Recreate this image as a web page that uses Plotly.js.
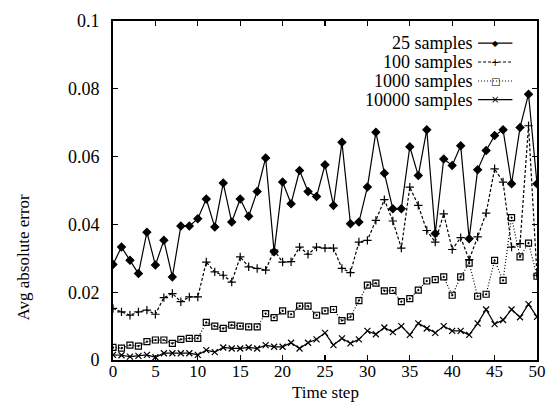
<!DOCTYPE html>
<html>
<head>
<meta charset="utf-8">
<script src="https://cdn.plot.ly/plotly-3.0.1.min.js"></script>
<style>html,body{margin:0;padding:0;background:#fff;}#chart{width:547px;height:409px;}</style>
</head>
<body>
<div id="chart"></div>
<script>
var timeSteps = [];
for (var i = 0; i <= 50; i++) timeSteps.push(i);

var seriesNames = ["25 samples", "100 samples", "1000 samples", "10000 samples"];

var s25 = [0.0282,0.0333,0.0294,0.0255,0.0377,0.0280,0.0353,0.0245,0.0395,0.0395,
           0.0417,0.0475,0.0392,0.0522,0.0407,0.0475,0.0424,0.0497,0.0596,0.0319,
           0.0525,0.0461,0.0559,0.0497,0.0482,0.0576,0.0456,0.0642,0.0402,0.0407,
           0.0510,0.0672,0.0551,0.0446,0.0446,0.0629,0.0544,0.0679,0.0373,0.0593,
           0.0574,0.0632,0.0358,0.0561,0.0618,0.0662,0.0679,0.0520,0.0686,0.0784,
           0.0520];
var s100 = [0.0152,0.0142,0.0132,0.0142,0.0147,0.0135,0.0184,0.0196,0.0172,0.0186,
            0.0186,0.0289,0.0260,0.0250,0.0230,0.0304,0.0275,0.0270,0.0265,0.0324,
            0.0289,0.0290,0.0333,0.0312,0.0333,0.0330,0.0330,0.0270,0.0258,0.0348,
            0.0353,0.0412,0.0473,0.0410,0.0330,0.0510,0.0456,0.0382,0.0348,0.0431,
            0.0326,0.0361,0.0296,0.0363,0.0433,0.0564,0.0525,0.0333,0.0343,0.0691,
            0.0250];
var s1000 = [0.0037,0.0035,0.0044,0.0041,0.0054,0.0059,0.0059,0.0049,0.0061,0.0064,
             0.0064,0.0111,0.0100,0.0093,0.0103,0.0100,0.0098,0.0098,0.0137,0.0125,
             0.0145,0.0135,0.0159,0.0159,0.0132,0.0145,0.0149,0.0116,0.0127,0.0175,
             0.0221,0.0227,0.0204,0.0205,0.0172,0.0181,0.0206,0.0233,0.0237,0.0245,
             0.0191,0.0245,0.0286,0.0188,0.0194,0.0294,0.0235,0.0420,0.0304,0.0345,
             0.0247];
var s10000 = [0.0015,0.0014,0.0010,0.0012,0.0015,0.0008,0.0020,0.0020,0.0020,0.0020,
              0.0015,0.0029,0.0023,0.0037,0.0034,0.0034,0.0037,0.0034,0.0044,0.0039,
              0.0039,0.0051,0.0034,0.0051,0.0061,0.0080,0.0044,0.0064,0.0049,0.0061,
              0.0086,0.0076,0.0096,0.0082,0.0100,0.0074,0.0108,0.0093,0.0080,0.0100,
              0.0086,0.0086,0.0074,0.0108,0.0149,0.0106,0.0118,0.0149,0.0126,0.0165,
              0.0127];

var xTickVals = [0,5,10,15,20,25,30,35,40,45,50];
var yTickVals = [0,0.02,0.04,0.06,0.08,0.1];
var yTickText = ["0","0.02","0.04","0.06","0.08","0.1"];

var FONT = "Liberation Serif, Times New Roman, serif";

var styles = [
  {dash:"solid", symbol:"diamond", size:6, glyph:"\u25C6"},
  {dash:"3px,2px", symbol:"cross-thin", size:6, glyph:"+"},
  {dash:"1px,2px", symbol:"square-open-dot", size:6, glyph:"\u25A1"},
  {dash:"solid", symbol:"x-thin", size:6, glyph:"\u00D7"}
];
var allSeries = [s25, s100, s1000, s10000];

var traces = allSeries.map(function(ys, k){
  var st = styles[k];
  return {
    x: timeSteps, y: ys, name: seriesNames[k], type: "scatter", mode: "lines+markers",
    line: {color: "#000", width: 1.2, dash: st.dash},
    marker: {symbol: st.symbol, size: st.size, color: "#000", line: {color: "#000", width: 1.2}},
    showlegend: false
  };
});

var legendY = [0.935, 0.879, 0.823, 0.768];
var annotations = [];
var shapes = [];
seriesNames.forEach(function(n, k){
  annotations.push({xref:"paper", yref:"paper", x:0.854, y:legendY[k], text:n, showarrow:false,
    xanchor:"right", yanchor:"middle", font:{family:FONT, size:18, color:"#000"}});
  shapes.push({type:"line", xref:"paper", yref:"paper", x0:0.861, x1:0.942, y0:legendY[k], y1:legendY[k],
    line:{color:"#000", width:1.2, dash:styles[k].dash}});
  annotations.push({xref:"paper", yref:"paper", x:0.901, y:legendY[k], text:styles[k].glyph, showarrow:false,
    xanchor:"center", yanchor:"middle", font:{family:"DejaVu Sans", size:(k===0?8:10), color:"#000"}});
});
annotations.push({xref:"paper", yref:"paper", x:0.5, y:-0.097, text:"Time step", showarrow:false,
  xanchor:"center", yanchor:"middle", font:{family:FONT, size:17, color:"#000"}});
annotations.push({xref:"paper", yref:"paper", x:-0.211, y:0.304, text:"Avg absolute error", showarrow:false,
  textangle:-90, xanchor:"center", yanchor:"middle", font:{family:FONT, size:17, color:"#000"}});

var layout = {
  width: 547, height: 409,
  margin: {l:113, r:10, t:21, b:49, pad:0},
  paper_bgcolor: "#fff", plot_bgcolor: "#fff",
  font: {family: FONT, size: 18, color: "#000"},
  xaxis: {range:[0,50], tickvals:xTickVals, ticks:"inside", ticklen:5, tickwidth:1.2, tickcolor:"#000",
    showline:true, linecolor:"#000", linewidth:1.8, mirror:"allticks", showgrid:false, zeroline:false,
    tickfont:{family:FONT, size:17, color:"#000"}, ticklabelstandoff:-5},
  yaxis: {range:[0,0.1], tickvals:yTickVals, ticktext:yTickText, ticks:"inside", ticklen:5, tickwidth:1.2, tickcolor:"#000",
    showline:true, linecolor:"#000", linewidth:1.8, mirror:"allticks", showgrid:false, zeroline:false,
    tickfont:{family:FONT, size:18, color:"#000"}, ticklabelstandoff:8},
  showlegend: false,
  annotations: annotations,
  shapes: shapes
};

Plotly.newPlot("chart", traces, layout, {staticPlot:true, displayModeBar:false});
</script>
</body>
</html>
